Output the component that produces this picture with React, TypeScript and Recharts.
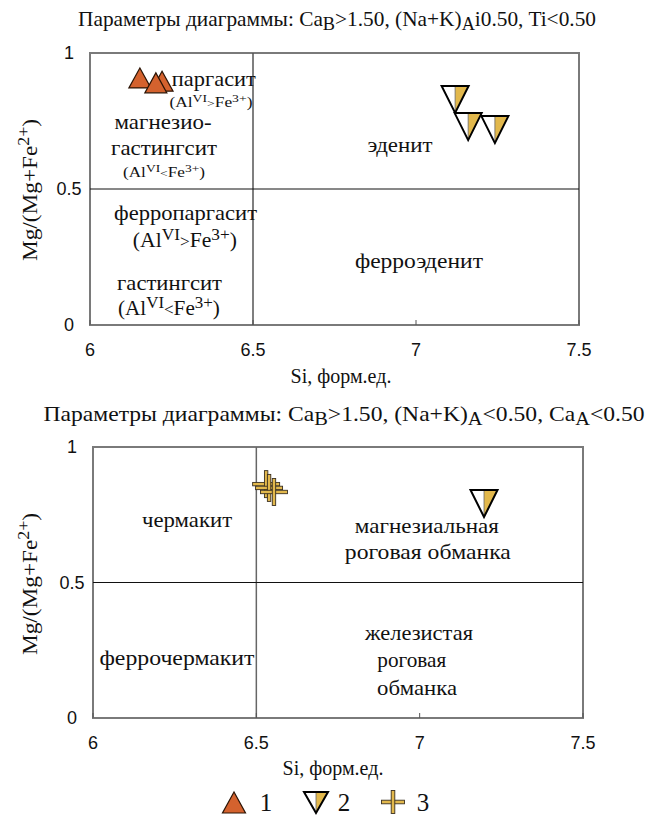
import React from 'react';
import { ScatterChart, Scatter, XAxis, YAxis, ReferenceLine, ReferenceArea, ReferenceDot } from 'recharts';

// ---- data ----
const X_TICKS = [6, 6.5, 7, 7.5];
const Y_TICKS = [0, 0.5, 1];

// series 1 (pargasite triangles) — top chart
const s1X = [6.153, 6.221, 6.202];
const s1Y = [0.896, 0.884, 0.878];
// series 2 (inverted triangles) — top chart
const s2TopX = [7.12, 7.16, 7.242];
const s2TopY = [0.846, 0.746, 0.735];
// series 2 — bottom chart
const s2BotX = [7.197];
const s2BotY = [0.808];
// series 3 (crosses) — bottom chart
const s3X = [6.53, 6.539, 6.554];
const s3Y = [0.863, 0.849, 0.834];

const LEGEND_LABELS = ['1', '2', '3'];

const zip = (xs: number[], ys: number[]) => xs.map((x, i) => ({ x, y: ys[i] }));

const SERIF = '"Liberation Serif", "Times New Roman", serif';
const SANS = '"Liberation Sans", Arial, sans-serif';
const ORANGE = '#d4622e';
const YELLOW = '#e2b84c';

const TriUp = ({ cx, cy, w = 22, h = 20 }: any) => (
  <polygon
    points={`${cx},${cy - (2 * h) / 3} ${cx - w / 2},${cy + h / 3} ${cx + w / 2},${cy + h / 3}`}
    fill={ORANGE}
    stroke="#2b1405"
    strokeWidth={1.2}
  />
);

const TriDown = ({ cx, cy, w = 27, h = 27 }: any) => {
  const top = cy - h / 3;
  const apex = cy + (2 * h) / 3;
  return (
    <g>
      <polygon points={`${cx - w / 2},${top} ${cx},${top} ${cx},${apex}`} fill="#ffffff" />
      <polygon points={`${cx},${top} ${cx + w / 2},${top} ${cx},${apex}`} fill={YELLOW} />
      <line x1={cx} y1={top} x2={cx} y2={apex} stroke="#666" strokeWidth={0.8} />
      <polygon
        points={`${cx - w / 2},${top} ${cx + w / 2},${top} ${cx},${apex}`}
        fill="none"
        stroke="#000"
        strokeWidth={2}
        strokeLinejoin="miter"
      />
    </g>
  );
};

const Cross = ({ cx, cy, L = 13.5, t = 1.7 }: any) => (
  <g>
    <rect x={cx - L} y={cy - t} width={2 * L} height={2 * t} fill={YELLOW} stroke="#3b3020" strokeWidth={0.9} />
    <rect x={cx - t} y={cy - L} width={2 * t} height={2 * L} fill={YELLOW} stroke="#3b3020" strokeWidth={0.9} />
  </g>
);

const XTick = ({ x, y, payload }: any) => (
  <g>
    <line x1={x} x2={x} y1={y} y2={y - 5} stroke="#555" strokeWidth={1} />
    <text x={x} y={y + 25} textAnchor="middle" dominantBaseline="central" fontFamily={SANS} fontSize={18} fill="#111">
      {payload.value}
    </text>
  </g>
);

const YTick = ({ x, y, payload }: any) => (
  <text x={x - 21} y={y} textAnchor="middle" dominantBaseline="central" fontFamily={SANS} fontSize={18} fill="#111">
    {payload.value}
  </text>
);

const word = (x: number, y: number, text: string, len: number, size = 22) => (
  <ReferenceDot
    key={text + x + y}
    x={x}
    y={y}
    r={0}
    ifOverflow="visible"
    shape={(p: any) => (
      <text
        x={p.cx}
        y={p.cy}
        textAnchor="middle"
        fontFamily={SERIF}
        style={{ fontFamily: SERIF }}
        fontSize={size}
        fill="#111"
        textLength={len}
        lengthAdjust="spacingAndGlyphs"
      >
        <tspan style={{ fontFamily: SERIF }}>{text}</tspan>
      </text>
    )}
  />
);

const alvi = (x: number, y: number, rel: string, base: number, small: number, len: number) => (
  <ReferenceDot
    key={'al' + x + y}
    x={x}
    y={y}
    r={0}
    ifOverflow="visible"
    shape={(p: any) => (
      <text
        x={p.cx}
        y={p.cy}
        textAnchor="middle"
        fontFamily={SERIF}
        style={{ fontFamily: SERIF }}
        fontSize={base}
        fill="#111"
        textLength={len}
        lengthAdjust="spacingAndGlyphs"
      >
        <tspan>(Al</tspan>
        <tspan dy={-base * 0.35} fontSize={small}>VI</tspan>
        <tspan dy={base * 0.35} fontSize={small}>{rel}</tspan>
        <tspan>Fe</tspan>
        <tspan dy={-base * 0.35} fontSize={small}>3+</tspan>
        <tspan dy={base * 0.35}>)</tspan>
      </text>
    )}
  />
);

const frame = (
  <ReferenceArea x1={6} x2={7.5} y1={0} y2={1} fill="none" stroke="#7a7a7a" strokeWidth={2} ifOverflow="visible" />
);

const axes = [
  <XAxis
    key="xa"
    type="number"
    dataKey="x"
    domain={[6, 7.5]}
    ticks={X_TICKS}
    axisLine={false}
    tickLine={false}
    tickSize={0}
    tickMargin={0}
    height={30}
    tick={<XTick />}
    allowDataOverflow
  />,
  <YAxis
    key="ya"
    type="number"
    dataKey="y"
    domain={[0, 1]}
    ticks={Y_TICKS}
    axisLine={false}
    tickLine={false}
    tickSize={0}
    tickMargin={0}
    width={60}
    tick={<YTick />}
    allowDataOverflow
  />,
];

export default function App() {
  return (
    <div style={{ position: 'absolute', left: 0, top: 0, width: 648, height: 816, background: '#fff', fontFamily: SERIF }}>
      <div style={{ position: 'absolute', left: 0, top: 0 }}>
        <ScatterChart width={648} height={400} margin={{ top: 53, right: 69, bottom: 45, left: 30 }}>
          {axes}
          {frame}
          <ReferenceLine x={6.5} stroke="#555" strokeWidth={1.5} />
          <ReferenceLine y={0.5} stroke="#111" strokeWidth={1} />
          {word(6.380, 0.879, 'паргасит', 84)}
          {alvi(6.371, 0.803, '>', 14, 11, 83)}
          {word(6.224, 0.722, 'магнезио-', 97)}
          {word(6.227, 0.625, 'гастингсит', 106)}
          {alvi(6.227, 0.544, '<', 14, 11, 82)}
          {word(6.293, 0.386, 'ферропаргасит', 143)}
          {alvi(6.291, 0.287, '>', 20, 16, 104)}
          {word(6.244, 0.129, 'гастингсит', 105)}
          {alvi(6.242, 0.037, '<', 20, 16, 102)}
          {word(6.951, 0.636, 'эденит', 65)}
          {word(7.009, 0.21, 'ферроэденит', 128)}
          <Scatter data={zip(s1X, s1Y)} isAnimationActive={false} shape={(p: any) => <TriUp cx={p.cx} cy={p.cy} />} />
          <Scatter data={zip(s2TopX, s2TopY)} isAnimationActive={false} shape={(p: any) => <TriDown cx={p.cx} cy={p.cy} />} />
        </ScatterChart>
      </div>
      <div style={{ position: 'absolute', left: 0, top: 395 }}>
        <ScatterChart width={648} height={421} margin={{ top: 52, right: 65, bottom: 68, left: 33 }}>
          {axes}
          {frame}
          <ReferenceLine x={6.5} stroke="#666" strokeWidth={1.5} />
          <ReferenceLine y={0.5} stroke="#111" strokeWidth={1} />
          {word(6.288, 0.705, 'чермакит', 90)}
          {word(7.022, 0.683, 'магнезиальная', 144)}
          {word(7.025, 0.587, 'роговая обманка', 166)}
          {word(6.257, 0.196, 'феррочермакит', 155)}
          {word(6.998, 0.288, 'железистая', 108)}
          {word(6.976, 0.188, 'роговая', 69)}
          {word(6.992, 0.085, 'обманка', 80)}
          <Scatter data={zip(s3X, s3Y)} isAnimationActive={false} shape={(p: any) => <Cross cx={p.cx} cy={p.cy} />} />
          <Scatter data={zip(s2BotX, s2BotY)} isAnimationActive={false} shape={(p: any) => <TriDown cx={p.cx} cy={p.cy} />} />
        </ScatterChart>
      </div>
      <svg
        width={648}
        height={816}
        style={{ position: 'absolute', left: 0, top: 0, pointerEvents: 'none' }}
      >
        <text x={337} y={26} textAnchor="middle" fontFamily={SERIF} fontSize={21} fill="#111" textLength={518} lengthAdjust="spacingAndGlyphs">
          <tspan>Параметры диаграммы: Ca</tspan>
          <tspan dy={4} fontSize={18}>B</tspan>
          <tspan dy={-4}>&gt;1.50, (Na+K)</tspan>
          <tspan dy={4} fontSize={18}>A</tspan>
          <tspan dy={-4}>i0.50, Ti&lt;0.50</tspan>
        </text>
        <text x={344} y={421} textAnchor="middle" fontFamily={SERIF} fontSize={22} fill="#111" textLength={601} lengthAdjust="spacingAndGlyphs">
          <tspan>Параметры диаграммы: Ca</tspan>
          <tspan dy={4} fontSize={19}>B</tspan>
          <tspan dy={-4}>&gt;1.50, (Na+K)</tspan>
          <tspan dy={4} fontSize={19}>A</tspan>
          <tspan dy={-4}>&lt;0.50, Ca</tspan>
          <tspan dy={4} fontSize={19}>A</tspan>
          <tspan dy={-4}>&lt;0.50</tspan>
        </text>
        <text x={341} y={383} textAnchor="middle" fontFamily={SERIF} fontSize={20} fill="#111">Si, форм.ед.</text>
        <text x={333} y={775} textAnchor="middle" fontFamily={SERIF} fontSize={20} fill="#111">Si, форм.ед.</text>
        {[190, 584].map((cy) => (
          <text
            key={cy}
            transform={`translate(37, ${cy}) rotate(-90)`}
            textAnchor="middle"
            fontFamily={SERIF}
            fontSize={21}
            fill="#111"
            textLength={142}
            lengthAdjust="spacingAndGlyphs"
          >
            <tspan>Mg/(Mg+Fe</tspan>
            <tspan dy={-8} fontSize={16}>2+</tspan>
            <tspan dy={8}>)</tspan>
          </text>
        ))}
        {/* legend */}
        <TriUp cx={234} cy={806} w={23} h={21} />
        <text x={266} y={811} textAnchor="middle" fontFamily={SERIF} fontSize={25} fill="#111">{LEGEND_LABELS[0]}</text>
        <TriDown cx={316} cy={799} w={24} h={21} />
        <text x={344} y={811} textAnchor="middle" fontFamily={SERIF} fontSize={25} fill="#111">{LEGEND_LABELS[1]}</text>
        <Cross cx={393} cy={802} L={11.5} t={1.8} />
        <text x={423} y={811} textAnchor="middle" fontFamily={SERIF} fontSize={25} fill="#111">{LEGEND_LABELS[2]}</text>
      </svg>
    </div>
  );
}
